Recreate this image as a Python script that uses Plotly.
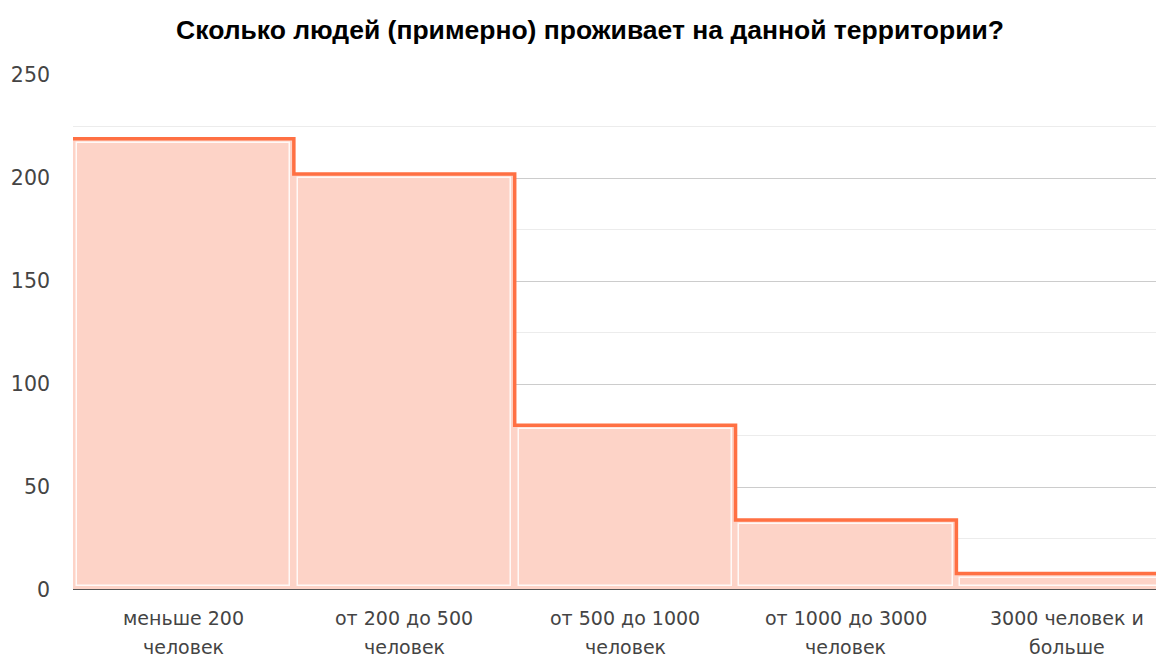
import plotly.graph_objects as go

# данные
categories = ["меньше 200\nчеловек", "от 200 до 500\nчеловек", "от 500 до 1000\nчеловек",
              "от 1000 до 3000\nчеловек", "3000 человек и\nбольше"]
counts = [219, 202, 80, 34, 8]
y_ticks = [0, 50, 100, 150, 200, 250]

fill_col = "rgb(253,211,199)"
line_col = "rgb(255,112,67)"

idx = list(range(len(categories)))

fig = go.Figure()

# сплошная заливка ступеней
fig.add_trace(go.Bar(x=idx, y=counts, width=1, marker=dict(color=fill_col, line=dict(width=0)),
                     hoverinfo="skip", showlegend=False))
# внутренняя белая рамка
fig.add_trace(go.Bar(x=idx, y=[v - 4 for v in counts], base=2, width=0.965,
                     marker=dict(color=fill_col, line=dict(color="rgba(255,255,255,0.85)", width=1.5)),
                     hoverinfo="skip", showlegend=False))
# ступенчатая линия
step_x = [i - 0.5 for i in idx] + [idx[-1] + 0.5]
step_y = counts + [counts[-1]]
fig.add_trace(go.Scatter(x=step_x, y=step_y, mode="lines", line=dict(color=line_col, width=3.5, shape="hv"),
                         showlegend=False))

# подписи категорий (две строки)
for i, c in zip(idx, categories):
    for k, part in enumerate(c.split("\n")):
        fig.add_annotation(x=i, y=0, xref="x", yref="paper", text=part, showarrow=False,
                           yanchor="top", yshift=-15 - 29 * k,
                           font=dict(size=19, color="#444", family="DejaVu Sans, sans-serif"))

fig.update_layout(
    width=1156, height=649,
    barmode="overlay", bargap=0,
    plot_bgcolor="white", paper_bgcolor="white",
    margin=dict(l=65, r=0, t=67, b=67, autoexpand=False),
    font=dict(family="Liberation Sans, Arial, sans-serif", color="#444"),
    title=dict(text="<b>Сколько людей (примерно) проживает на данной территории?</b>",
               x=0.5035, xref="container", xanchor="center", y=0.966, yanchor="middle",
               font=dict(size=26.5, color="black")),
    # последний столбец в оригинале обрезан краем окна
    xaxis=dict(range=[-0.5, len(categories) - 0.56], showticklabels=False, showgrid=False,
               zeroline=False, showline=False, fixedrange=True),
    yaxis=dict(range=[0, 250], tickvals=y_ticks, ticks="", gridcolor="#cccccc", gridwidth=1,
               zeroline=False, showline=False, automargin=False,
               tickfont=dict(size=20.5, color="#444", family="DejaVu Sans, sans-serif"),
               ticklabelstandoff=22,
               minor=dict(dtick=25, showgrid=True, gridcolor="#ececec", gridwidth=1)),
    shapes=[dict(type="line", xref="paper", yref="y", x0=0, x1=1, y0=0, y1=0,
                 line=dict(color="#555", width=2), layer="above")],
)

fig.write_html("out.html")
